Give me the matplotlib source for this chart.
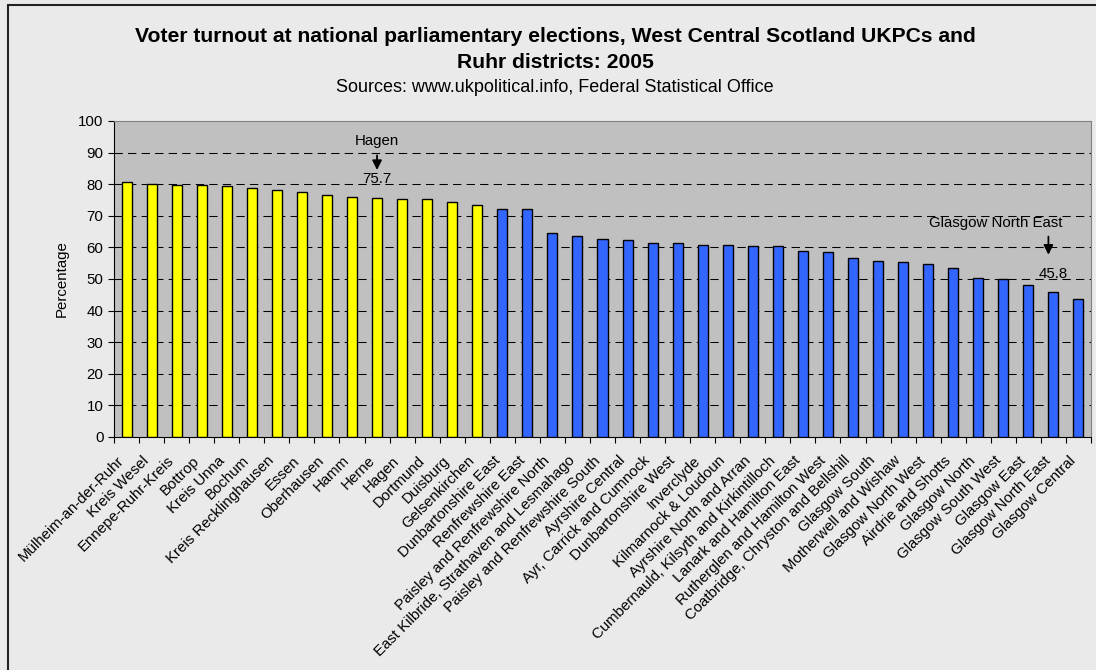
import matplotlib
matplotlib.use('Agg')
import matplotlib.pyplot as plt
from matplotlib.patches import Rectangle

plt.rcParams['font.family'] = ['Liberation Sans', 'DejaVu Sans']

# Ruhr districts (yellow) then West Central Scotland UKPCs (blue)
ruhr_names = ['Mülheim-an-der-Ruhr', 'Kreis Wesel', 'Ennepe-Ruhr-Kreis', 'Bottrop',
              'Kreis Unna', 'Bochum', 'Kreis Recklinghausen', 'Essen', 'Oberhausen',
              'Hamm', 'Herne', 'Hagen', 'Dortmund', 'Duisburg', 'Gelsenkirchen']
ruhr_values = [80.6, 80.1, 79.7, 79.6, 79.3, 78.8, 78.1, 77.4, 76.6, 75.9,
               75.7, 75.4, 75.2, 74.4, 73.5]

scot_names = ['Dunbartonshire East', 'Renfrewshire East', 'Paisley and Renfrewshire North',
              'East Kilbride, Strathaven and Lesmahago', 'Paisley and Renfrewshire South',
              'Ayrshire Central', 'Ayr, Carrick and Cumnock', 'Dunbartonshire West',
              'Inverclyde', 'Kilmarnock & Loudoun', 'Ayrshire North and Arran',
              'Cumbernauld, Kilsyth and Kirkintilloch', 'Lanark and Hamilton East',
              'Rutherglen and Hamilton West', 'Coatbridge, Chryston and Bellshill',
              'Glasgow South', 'Motherwell and Wishaw', 'Glasgow North West',
              'Airdrie and Shotts', 'Glasgow North', 'Glasgow South West',
              'Glasgow East', 'Glasgow North East', 'Glasgow Central']
scot_values = [72.0, 72.0, 64.7, 63.5, 62.8, 62.4, 61.3, 61.3, 60.8, 60.8,
               60.5, 60.3, 58.9, 58.4, 56.8, 55.8, 55.4, 54.9, 53.5, 50.3,
               49.9, 48.2, 45.8, 43.8]

yticks = list(range(0, 101, 10))

names = ruhr_names + scot_names
values = ruhr_values + scot_values
colors = ['#FFFF00'] * len(ruhr_names) + ['#3366FF'] * len(scot_names)

FS = 10.8

fig = plt.figure(figsize=(10.96, 6.70), dpi=100)
fig.patch.set_facecolor('#EAEAEA')

# outer chart frame (left and top edges visible)
fig.patches.append(Rectangle((8 / 1096, -0.1), 1.2, 1.1 - 5 / 670, transform=fig.transFigure,
                             fill=False, edgecolor='#222222', linewidth=1.5))

ax = fig.add_axes([114 / 1096, 1 - 437 / 670, (1091 - 114) / 1096, (437 - 121) / 670])
ax.set_facecolor('#C0C0C0')

x = list(range(len(values)))
ax.bar(x, values, width=0.4, color=colors, edgecolor='black', linewidth=1.0, zorder=3)

ax.set_xlim(-0.5, len(values) - 0.5)
ax.set_ylim(0, 100)
ax.set_yticks(yticks)
ax.set_yticklabels([str(t) for t in yticks], fontsize=FS)
for t in yticks[1:-1]:
    ax.axhline(t, color='black', linewidth=0.75, dashes=(8, 5), zorder=1)

# category ticks between bars
ax.set_xticks([i - 0.5 for i in range(len(values) + 1)])
ax.set_xticklabels([])
ax.tick_params(axis='x', length=4, direction='out')
ax.tick_params(axis='y', length=4, direction='out')

# rotated category labels, ending just left of each bar
for i, name in enumerate(names):
    ax.text(i - 0.38, -5.2, name, rotation=45, ha='right', va='top',
            rotation_mode='anchor', fontsize=FS, clip_on=False)

ax.spines['left'].set_color('black')
ax.spines['bottom'].set_color('black')
ax.spines['top'].set_color('#808080')
ax.spines['right'].set_color('#808080')

ax.set_ylabel('Percentage', fontsize=FS, labelpad=7)

# annotations
ax.text(10, 93.7, 'Hagen', ha='center', va='center', fontsize=FS)
ax.annotate('', xy=(10, 83.6), xytext=(10, 90.0),
            arrowprops=dict(arrowstyle='-|>', color='black', lw=1.3, mutation_scale=14))
ax.text(10, 81.6, '75.7', ha='center', va='center', fontsize=FS)

ax.text(34.7, 67.7, 'Glasgow North East', ha='center', va='center', fontsize=FS)
ax.annotate('', xy=(36.8, 56.8), xytext=(36.8, 64.3),
            arrowprops=dict(arrowstyle='-|>', color='black', lw=1.3, mutation_scale=14))
ax.text(37.0, 51.6, '45.8', ha='center', va='center', fontsize=FS)

cx = 555 / 1096
fig.text(cx, 1 - 36 / 670, 'Voter turnout at national parliamentary elections, West Central Scotland UKPCs and',
         ha='center', va='center', fontsize=15.2, fontweight='bold')
fig.text(cx, 1 - 63 / 670, 'Ruhr districts: 2005', ha='center', va='center',
         fontsize=15.2, fontweight='bold')
fig.text(cx, 1 - 88 / 670, 'Sources: www.ukpolitical.info, Federal Statistical Office',
         ha='center', va='center', fontsize=13)

fig.savefig('out.png', dpi=100, facecolor=fig.get_facecolor())
